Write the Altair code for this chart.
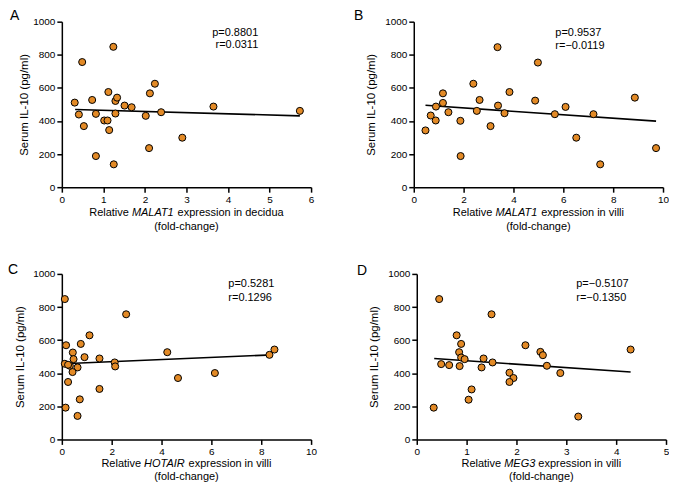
import altair as alt
import pandas as pd

FONT = "Liberation Sans"
ORANGE = "#E38A26"

# ---------------- data ----------------
a_x = [0.31, 0.49, 0.41, 0.53, 0.73, 0.82, 0.82, 1.02, 1.10, 1.12, 1.14, 1.24, 1.29,
       1.33, 1.29, 1.25, 1.51, 1.68, 2.02, 2.12, 2.24, 2.10, 2.39, 2.90, 3.65, 5.73]
a_y = [511, 756, 439, 369, 527, 443, 188, 403, 403, 575, 345, 848, 521,
       541, 445, 138, 493, 483, 431, 567, 625, 236, 453, 299, 487, 461]
a_fit_x = [0.32, 5.73]
a_fit_y = [469, 431]

b_x = [0.47, 0.68, 0.88, 0.89, 1.17, 1.17, 1.39, 1.87, 1.88, 2.39, 2.53, 2.64, 3.08,
       3.36, 3.38, 3.64, 3.84, 4.87, 4.98, 5.66, 6.09, 6.52, 7.21, 7.48, 8.87, 9.72]
b_y = [343, 433, 403, 487, 567, 509, 453, 401, 188, 625, 461, 527, 369,
       846, 493, 447, 575, 523, 753, 441, 485, 299, 441, 138, 541, 236]
b_fit_x = [0.47, 9.72]
b_fit_y = [495, 399]

c_x = [0.12, 2.58, 1.11, 0.17, 0.76, 0.44, 0.47, 0.91, 1.51, 2.12, 2.14, 0.12, 0.32,
       0.25, 0.63, 0.43, 0.25, 1.51, 0.72, 0.15, 0.63, 4.23, 4.66, 6.14, 8.33, 8.53]
c_y = [848, 756, 629, 569, 577, 525, 485, 497, 489, 465, 441, 457, 445,
       451, 435, 407, 347, 305, 242, 192, 142, 527, 371, 401, 511, 543]
c_fit_x = [0.05, 8.46]
c_fit_y = [457, 511]

d_x = [0.45, 1.50, 0.80, 0.89, 2.18, 0.85, 2.48, 2.53, 0.89, 0.96, 0.49, 0.65, 0.86,
       1.34, 1.30, 1.52, 1.86, 1.94, 1.86, 1.10, 1.04, 0.34, 2.61, 2.88, 3.24, 4.29]
d_y = [848, 756, 629, 577, 569, 527, 529, 509, 495, 485, 455, 449, 443,
       489, 435, 465, 403, 371, 347, 302, 240, 192, 445, 401, 138, 543]
d_fit_x = [0.35, 4.29]
d_fit_y = [489, 407]

y_ticks = [0, 200, 400, 600, 800, 1000]
y_title = "Serum IL-10 (pg/ml)"

# Arial / Liberation Sans advance widths (per 1000 em) for title layout
WID = {' ': 278, 'R': 722, 'e': 556, 'l': 222, 'a': 556, 't': 278, 'i': 222, 'v': 500,
       'x': 500, 'p': 556, 'r': 333, 's': 500, 'o': 556, 'n': 556, 'd': 556, 'c': 500,
       'u': 556, 'M': 833, 'A': 667, 'L': 556, 'T': 611, '1': 556, 'H': 722, 'O': 778,
       'I': 278, 'E': 667, 'G': 778, '3': 556}


def tw(s, size):
    return sum(WID.get(ch, 556) for ch in s) * size / 1000.0


W, H = 250, 166
XT = 11  # x-title font size


def text_layer(txt, px, py, align="left", size=11, style="normal", baseline="middle"):
    return alt.Chart(pd.DataFrame({"t": [txt]})).mark_text(
        align=align, baseline=baseline, font=FONT, fontSize=size, fontStyle=style,
        color="black"
    ).encode(x=alt.value(px), y=alt.value(py), text="t:N")


def panel(letter, lx, ly, gene, post, xs, ys, xmax, xstep, fx, fy, p_txt, r_txt,
          tx, talign, ty1, ty2, xl1, xl2, tpad):
    df = pd.DataFrame({"x": xs, "y": ys})
    fit = pd.DataFrame({"x": fx, "y": fy})
    xscale = alt.Scale(domain=[0, xmax], nice=False, zero=True)
    yscale = alt.Scale(domain=[0, 1000], nice=False)
    xaxis = alt.Axis(values=list(range(0, xmax + 1, xstep)), title=None, grid=False,
                     format="d",
                     labelFontSize=10, labelFont=FONT, labelColor="black", labelPadding=2,
                     tickSize=5, tickWidth=1.5, tickColor="black",
                     domainWidth=1.5, domainColor="black", labelFlush=False)
    yaxis = alt.Axis(values=y_ticks, title=y_title, grid=False, format="d",
                     labelFontSize=10, labelFont=FONT, labelColor="black", labelPadding=2,
                     tickSize=5, tickWidth=1.5, tickColor="black",
                     domainWidth=1.5, domainColor="black", labelFlush=False,
                     titleFont=FONT, titleFontSize=11.5, titleFontWeight="normal",
                     titleColor="black", titlePadding=tpad)
    line = alt.Chart(fit).mark_line(color="black", strokeWidth=1.6).encode(
        x=alt.X("x:Q", scale=xscale, axis=xaxis),
        y=alt.Y("y:Q", scale=yscale, axis=yaxis))
    pts = alt.Chart(df).mark_circle(size=50, color=ORANGE, opacity=1, stroke="black",
                                    strokeWidth=1).encode(
        x=alt.X("x:Q", scale=xscale, axis=xaxis),
        y=alt.Y("y:Q", scale=yscale, axis=yaxis))
    # x title with italic gene name
    pre = "Relative"
    w_pre = tw(pre + " ", XT)
    w_gene = tw(gene, XT)
    start = W / 2 - (w_pre + w_gene + tw(" " + post, XT)) / 2
    layers = [line, pts,
              text_layer(letter, lx, ly, "left", 14, baseline="alphabetic"),
              text_layer(p_txt, tx, ty1, talign),
              text_layer(r_txt, tx, ty2, talign),
              text_layer(pre, start, H + xl1, "left", XT),
              text_layer(gene, start + w_pre, H + xl1, "left", XT, "italic"),
              text_layer(post, start + w_pre + w_gene + tw(" ", XT), H + xl1, "left", XT),
              text_layer("(fold-change)", W / 2, H + xl2, "center", XT)]
    return alt.layer(*layers).properties(width=W, height=H)


A = panel("A", -52, -1.5, "MALAT1", "expression in decidua", a_x, a_y, 6, 1,
          a_fit_x, a_fit_y, "p=0.8801", "r=0.0311", 197, "right", 11.6, 23.6,
          25.5, 39.5, 3)
B = panel("B", -60, -1.5, "MALAT1", "expression in villi", b_x, b_y, 10, 2,
          b_fit_x, b_fit_y, "p=0.9537", "r=\u22120.0119", 142, "left", 11, 24.3,
          25.5, 39.5, 8)
C = panel("C", -54, 0.5, "HOTAIR", "expression in villi", c_x, c_y, 10, 2,
          c_fit_x, c_fit_y, "p=0.5281", "r=0.1296", 167, "left", 10.6, 24.6,
          24.5, 38, 7)
D = panel("D", -60, 1.5, "MEG3", "expression in villi", d_x, d_y, 5, 1,
          d_fit_x, d_fit_y, "p=\u22120.5107", "r=\u22120.1350", 160, "left", 10.6, 24.6,
          24.5, 38, 8)

chart = alt.vconcat(
    alt.hconcat(A, B, spacing=40),
    alt.hconcat(C, D, spacing=40),
    spacing=31,
).properties(padding=0, background="white").configure_view(stroke=None)

chart.save("out.html", embed_options={"renderer": "svg", "actions": False})
